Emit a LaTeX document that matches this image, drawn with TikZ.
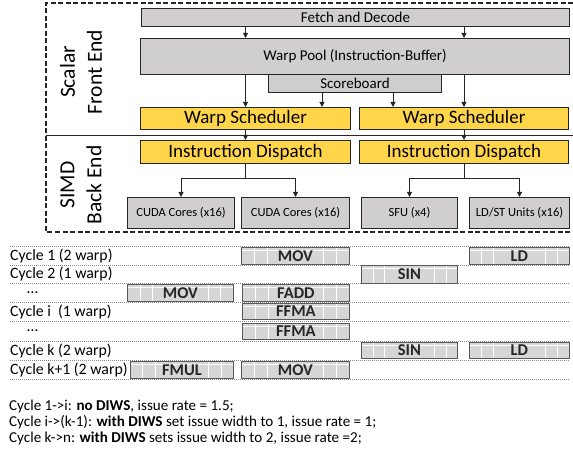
\documentclass[tikz,border=0pt]{standalone}
\usepackage{fontspec}
\setmainfont{Carlito}
\usetikzlibrary{arrows.meta,calc}

\definecolor{unitgray}{HTML}{D0CECE}
\definecolor{schedgold}{HTML}{FFD54A}
\definecolor{instrgray}{HTML}{D6D6D6}
\definecolor{edge}{HTML}{262626}

\tikzset{
  unit/.style={draw=edge, fill=unitgray, line width=1pt, inner sep=0pt,
    anchor=north west, font=\fontsize{15}{18}\selectfont},
  sched/.style={unit, fill=schedgold, font=\fontsize{19}{22}\selectfont},
  core/.style={unit, font=\fontsize{12.5}{15}\selectfont},
  instr/.style={draw=black!65, fill=instrgray, line width=0.8pt, inner sep=0pt,
    anchor=north west, minimum height=17pt, text=black!85,
    font=\fontsize{16.5}{18}\selectfont\bfseries,
    path picture={
      \foreach \f in {0.12,0.24,0.76,0.88}
        \draw[white, line width=0.7pt]
          ($(path picture bounding box.south west)!\f!(path picture bounding box.south east)$) --
          ($(path picture bounding box.north west)!\f!(path picture bounding box.north east)$);
      \draw[white, line width=0.6pt]
        ([yshift=-3pt]path picture bounding box.north west) --
        ([yshift=-3pt]path picture bounding box.north east);
    }},
  flow/.style={-{Triangle[length=5pt,width=5pt]}, line width=1pt, draw=edge},
  rowline/.style={black!45, line width=0.5pt, dash pattern=on 1pt off 1pt},
  rowlabel/.style={anchor=west, inner sep=0pt, font=\fontsize{15.8}{18}\selectfont},
  sidelabel/.style={rotate=90, align=center, font=\fontsize{21.5}{27}\selectfont},
  note/.style={anchor=west, inner sep=0pt, font=\fontsize{15.1}{17}\selectfont}
}

\begin{document}
\begin{tikzpicture}[x=1pt, y=-1pt]
  \useasboundingbox (0,0) rectangle (573,457);

  % Front end / back end frame
  \draw[edge, line width=1.2pt, dash pattern=on 5pt off 2.5pt]
    (573,3) -- (46,3) -- (46,232) -- (573,232);
  \draw[edge, line width=0.9pt] (46,135) -- (573,135);
  \node[sidelabel] (front) at (81,72) {Scalar\\Front End};
  \node[sidelabel] (back) at (81,185) {SIMD\\Back End};

  % Pipeline units
  \node[unit, minimum width=428pt, minimum height=18pt] (fetch) at (141,8) {Fetch and Decode};
  \node[unit, minimum width=429pt, minimum height=36pt] (pool) at (140,38) {Warp Pool (Instruction-Buffer)};
  \node[unit, minimum width=173pt, minimum height=18pt] (score) at (268,74) {Scoreboard};
  \node[sched, minimum width=210pt, minimum height=22pt] (schedL) at (140,107) {Warp Scheduler};
  \node[sched, minimum width=209pt, minimum height=22pt] (schedR) at (359,107) {Warp Scheduler};
  \node[sched, minimum width=210pt, minimum height=23pt] (dispL) at (140,140) {Instruction Dispatch};
  \node[sched, minimum width=209pt, minimum height=23pt] (dispR) at (359,140) {Instruction Dispatch};
  \node[core, minimum width=107pt, minimum height=31pt] (cuda1) at (127,197) {CUDA Cores (x16)};
  \node[core, minimum width=108pt, minimum height=31pt] (cuda2) at (241,197) {CUDA Cores (x16)};
  \node[core, minimum width=96pt, minimum height=31pt] (sfu) at (361,197) {SFU (x4)};
  \node[core, minimum width=100pt, minimum height=31pt] (ldst) at (469,197) {LD/ST Units (x16)};

  % Flow between units
  \foreach \s in {schedL,schedR} {
    \draw[flow] (fetch.south -| \s.north) -- (pool.north -| \s.north);
    \draw[flow] (pool.south -| \s.north) -- (\s.north);
  }
  \draw[flow] ([xshift=-33pt]score.south) -- ([xshift=-33pt]score.south |- schedL.north);
  \draw[flow] ([xshift=38pt]score.south) -- ([xshift=38pt]score.south |- schedR.north);
  \draw[flow] (schedL.south) -- (dispL.north);
  \draw[flow] (schedR.south) -- (dispR.north);
  \draw[flow] (dispL.south) -- ++(0,15) -| (cuda1.north);
  \draw[flow] (dispL.south) -- ++(0,15) -| (cuda2.north);
  \draw[flow] (dispR.south) -- ++(0,15) -| (sfu.north);
  \draw[flow] (dispR.south) -- ++(0,15) -| (ldst.north);

  % Issue cycles
  \foreach \y in {246,265,283,302,321,341,360,379}
    \draw[rowline] (10,\y) -- (569,\y);
  \foreach \x/\y/\t [count=\i] in {10/256/Cycle 1 (2 warp), 10/274/Cycle 2 (1 warp),
      27/293/\ldots, 10/311.5/Cycle i\ \ (1 warp), 27/331/\ldots, 10/350.5/Cycle k (2 warp),
      10/369.5/Cycle k+1 (2 warp)}
    \node[rowlabel] (cyc\i) at (\x,\y) {\t};

  \node[instr, minimum width=108pt] (mov1) at (241,247) {MOV};
  \node[instr, minimum width=100pt] (ld1) at (469,247) {LD};
  \node[instr, minimum width=96pt, minimum height=18pt] (sin2) at (361,265) {SIN};
  \node[instr, minimum width=106pt] (mov3) at (127,284) {MOV};
  \node[instr, minimum width=107pt] (fadd3) at (242,284) {FADD};
  \node[instr, minimum width=107pt, minimum height=16pt] (ffma4) at (242,303) {FFMA};
  \node[instr, minimum width=107pt, minimum height=16pt] (ffma5) at (242,323) {FFMA};
  \node[instr, minimum width=96pt, minimum height=16pt] (sin6) at (361,342) {SIN};
  \node[instr, minimum width=100pt, minimum height=16pt] (ld6) at (469,342) {LD};
  \node[instr, minimum width=103pt] (fmul7) at (130,361) {FMUL};
  \node[instr, minimum width=108pt] (mov7) at (241,361) {MOV};

  % Issue rate notes
  \node[note] (note1) at (9,406) {Cycle 1->i: \textbf{no DIWS}, issue rate = 1.5;};
  \node[note] (note2) at (9,422) {Cycle i->(k-1): \textbf{with DIWS} set issue width to 1, issue rate = 1;};
  \node[note] (note3) at (9,438) {Cycle k->n: \textbf{with DIWS} sets issue width to 2, issue rate =2;};
\end{tikzpicture}
\end{document}
